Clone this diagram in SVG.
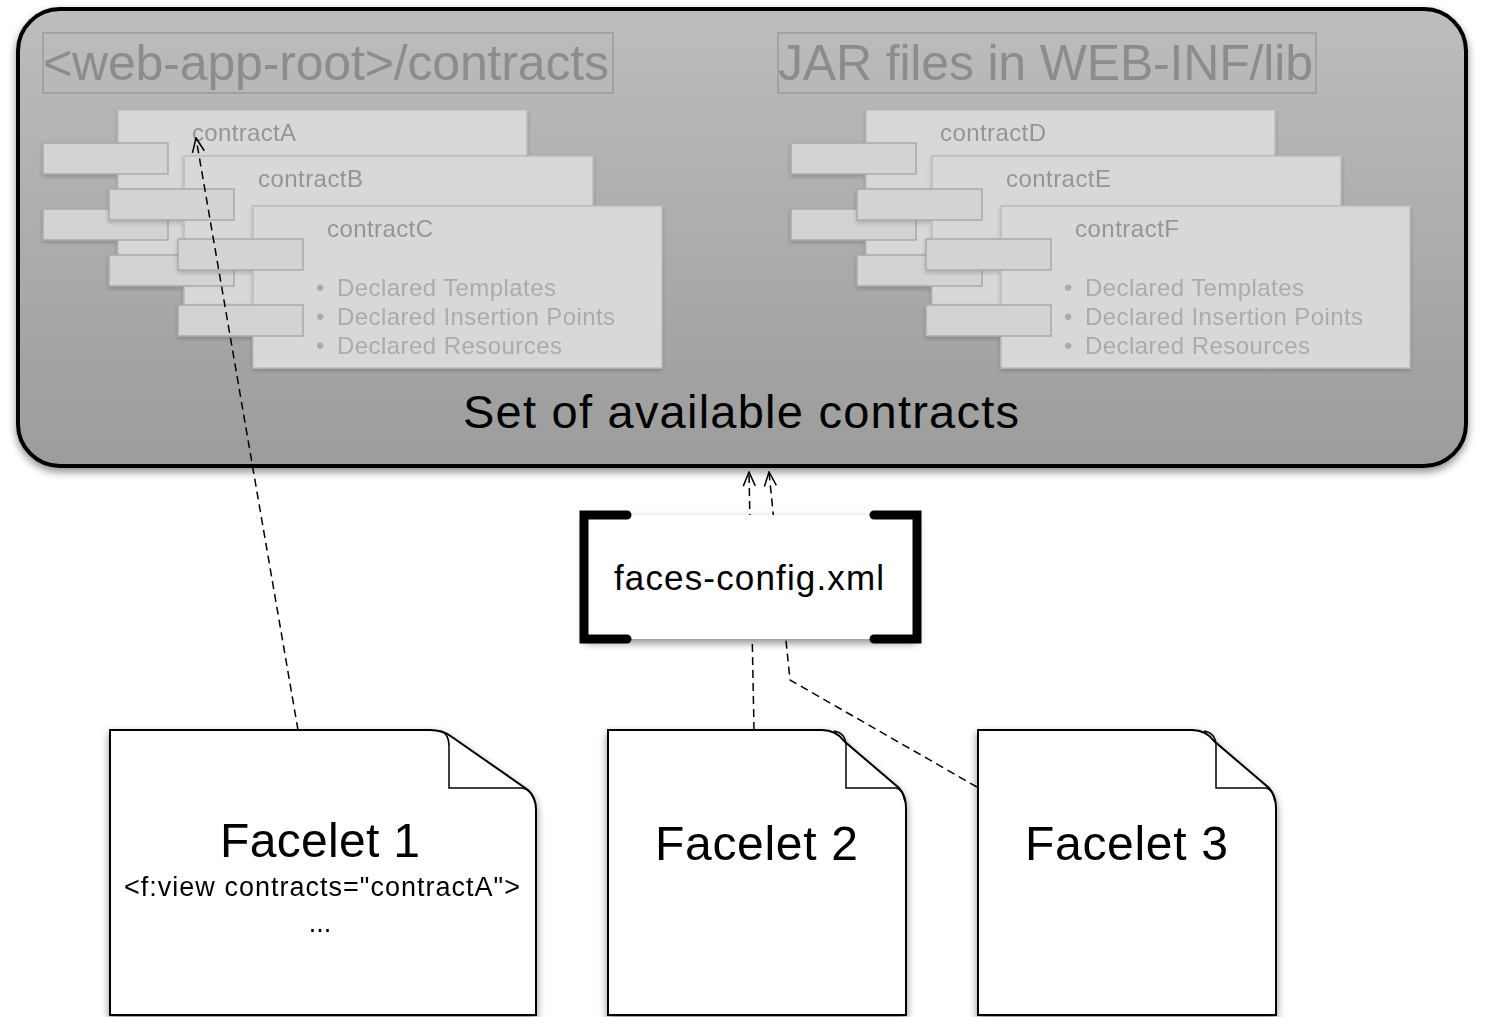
<svg xmlns="http://www.w3.org/2000/svg" width="1487" height="1017" viewBox="0 0 1487 1017">
<defs>
<style>
text{font-family:"Liberation Sans",Arial,sans-serif}
.hdr{fill:none;stroke:#9a9a9a;stroke-width:1.5}
.hdrt{font-size:50px;fill:#8c8c8c}
.comp{fill:#d8d8d8;stroke:#bcbcbc;stroke-width:1.5}
.port{fill:#d3d3d3;stroke:#a9a9a9;stroke-width:1.5}
.cname{font-size:24px;fill:#959595}
.bul{font-size:24px;fill:#ababab}
.doc{fill:#fff;stroke:#000;stroke-width:2}
.fold{fill:none;stroke:#000;stroke-width:1.5}
.ft{font-size:48px;fill:#000}
.dash{fill:none;stroke:#000;stroke-width:1.5;stroke-dasharray:8 5}
.brk{fill:none;stroke:#000;stroke-width:9;stroke-linecap:round;stroke-linejoin:miter}
</style>
<linearGradient id="bg" x1="0" y1="0" x2="0" y2="1">
<stop offset="0" stop-color="#bdbdbd"/>
<stop offset="1" stop-color="#9c9c9c"/>
</linearGradient>
<filter id="sh" x="-10%" y="-10%" width="120%" height="130%">
<feGaussianBlur in="SourceAlpha" stdDeviation="4"/>
<feOffset dx="0" dy="4"/>
<feComponentTransfer><feFuncA type="linear" slope="0.45"/></feComponentTransfer>
<feMerge><feMergeNode/><feMergeNode in="SourceGraphic"/></feMerge>
</filter>
<filter id="shs" x="-10%" y="-10%" width="120%" height="130%">
<feGaussianBlur in="SourceAlpha" stdDeviation="2"/>
<feOffset dx="0" dy="2"/>
<feComponentTransfer><feFuncA type="linear" slope="0.2"/></feComponentTransfer>
<feMerge><feMergeNode/><feMergeNode in="SourceGraphic"/></feMerge>
</filter>
<marker id="open" viewBox="0 0 16 14" refX="15" refY="7" markerWidth="16" markerHeight="14" markerUnits="userSpaceOnUse" orient="auto">
<path d="M1,1 L15,7 L1,13" fill="none" stroke="#000" stroke-width="1.5"/>
</marker>
</defs>

<g id="available-contracts">
<rect x="18" y="9" width="1448" height="457" rx="42" fill="url(#bg)" stroke="#000" stroke-width="4" filter="url(#sh)"/>
<text x="463" y="428" font-size="47" fill="#000" textLength="556">Set of available contracts</text>
</g>

<g id="webapp-header">
<rect class="hdr" x="43" y="33" width="570" height="60"/>
<text class="hdrt" x="43" y="80" textLength="566">&lt;web-app-root&gt;/contracts</text>
</g>
<g id="jar-header">
<rect class="hdr" x="778" y="33" width="538" height="60"/>
<text class="hdrt" x="778" y="80" textLength="535">JAR files in WEB-INF/lib</text>
</g>

<g id="contractA" filter="url(#shs)">
<rect class="comp" x="118" y="110" width="409" height="162"/>
<text class="cname" x="192" y="141" textLength="104">contractA</text>
<rect class="port" x="43" y="143" width="125" height="31"/>
<rect class="port" x="43" y="209" width="125" height="31"/>
</g>
<g id="contractB" filter="url(#shs)">
<rect class="comp" x="184" y="156" width="409" height="162"/>
<text class="cname" x="258" y="187" textLength="105">contractB</text>
<rect class="port" x="109" y="189" width="125" height="31"/>
<rect class="port" x="109" y="255" width="125" height="31"/>
</g>
<g id="contractC" filter="url(#shs)">
<rect class="comp" x="253" y="206" width="409" height="162"/>
<text class="cname" x="327" y="237" textLength="106">contractC</text>
<text class="bul" x="316" y="296">•</text>
<text class="bul" x="337" y="296" textLength="219">Declared Templates</text>
<text class="bul" x="316" y="325">•</text>
<text class="bul" x="337" y="325" textLength="278">Declared Insertion Points</text>
<text class="bul" x="316" y="354">•</text>
<text class="bul" x="337" y="354" textLength="225">Declared Resources</text>
<rect class="port" x="178" y="239" width="125" height="31"/>
<rect class="port" x="178" y="305" width="125" height="31"/>
</g>

<g id="contractD" filter="url(#shs)">
<rect class="comp" x="866" y="110" width="409" height="162"/>
<text class="cname" x="940" y="141" textLength="106">contractD</text>
<rect class="port" x="791" y="143" width="125" height="31"/>
<rect class="port" x="791" y="209" width="125" height="31"/>
</g>
<g id="contractE" filter="url(#shs)">
<rect class="comp" x="932" y="156" width="409" height="162"/>
<text class="cname" x="1006" y="187" textLength="105">contractE</text>
<rect class="port" x="857" y="189" width="125" height="31"/>
<rect class="port" x="857" y="255" width="125" height="31"/>
</g>
<g id="contractF" filter="url(#shs)">
<rect class="comp" x="1001" y="206" width="409" height="162"/>
<text class="cname" x="1075" y="237" textLength="104">contractF</text>
<text class="bul" x="1064" y="296">•</text>
<text class="bul" x="1085" y="296" textLength="219">Declared Templates</text>
<text class="bul" x="1064" y="325">•</text>
<text class="bul" x="1085" y="325" textLength="278">Declared Insertion Points</text>
<text class="bul" x="1064" y="354">•</text>
<text class="bul" x="1085" y="354" textLength="225">Declared Resources</text>
<rect class="port" x="926" y="239" width="125" height="31"/>
<rect class="port" x="926" y="305" width="125" height="31"/>
</g>

<g id="connectors">
<path class="dash" d="M298 730 L196 138" marker-end="url(#open)"/>
<path class="dash" d="M754 730 L749 472" marker-end="url(#open)"/>
<path class="dash" d="M977 787 L790 680 L769 472" marker-end="url(#open)"/>
</g>

<g id="faces-config">
<rect x="584" y="515" width="333" height="124" fill="#fff" filter="url(#sh)"/>
<path class="brk" d="M627 515 H584 V639 H627"/>
<path class="brk" d="M874 515 H917 V639 H874"/>
<text x="614" y="590" font-size="35" fill="#000" textLength="270">faces-config.xml</text>
</g>

<g id="facelet1" filter="url(#sh)">
<path class="doc" d="M110 730 H430 Q443 730 452 737 L528 790 Q536 797 536 810 V1015 H110 Z"/>
<path class="fold" d="M440 731 Q449 733 449 746 V788 H522 Q531 789 535 802"/>
<text class="ft" x="220" y="857" textLength="200">Facelet 1</text>
<text x="124" y="896" font-size="27" fill="#000" textLength="396">&lt;f:view contracts="contractA"&gt;</text>
<text x="320" y="932" font-size="27" fill="#000" text-anchor="middle">...</text>
</g>
<g id="facelet2" filter="url(#sh)">
<path class="doc" d="M608 730 H822 Q836 730 844 741 L899 788 Q906 796 906 808 V1015 H608 Z"/>
<path class="fold" d="M834 731 Q846 733 846 746 V788 H896 Q903 789 905 802"/>
<text class="ft" x="655" y="860" textLength="203">Facelet 2</text>
</g>
<g id="facelet3" filter="url(#sh)">
<path class="doc" d="M978 730 H1192 Q1206 730 1214 741 L1269 788 Q1276 796 1276 808 V1015 H978 Z"/>
<path class="fold" d="M1204 731 Q1216 733 1216 746 V788 H1266 Q1273 789 1275 802"/>
<text class="ft" x="1025" y="860" textLength="203">Facelet 3</text>
</g>
</svg>
